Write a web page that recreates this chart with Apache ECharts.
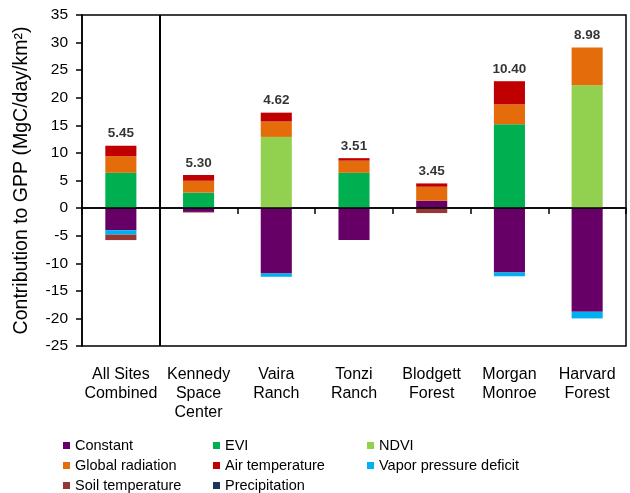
<!DOCTYPE html>
<html><head><meta charset="utf-8">
<script src="https://cdn.jsdelivr.net/npm/echarts@6/dist/echarts.min.js"></script>
<style>html,body{margin:0;padding:0;background:#fff}#c{width:630px;height:493px}</style>
</head><body><div id="c"></div>
<script>
const categories = ["All Sites\nCombined","Kennedy\nSpace\nCenter","Vaira\nRanch","Tonzi\nRanch","Blodgett\nForest","Morgan\nMonroe","Harvard\nForest"];
const constant      = [-4.0, -0.7, -11.85, -5.8, 1.33, -11.66, -18.8];
const evi           = [6.4, 2.8, 0, 6.4, 0, 15.2, 0];
const ndvi          = [0, 0, 12.9, 0, 0, 0, 22.25];
const globalRad     = [3.0, 2.15, 2.8, 2.2, 2.54, 3.6, 6.85];
const airTemp       = [1.9, 1.05, 1.6, 0.45, 0.6, 4.2, 0];
const vpd           = [-0.8, 0, -0.6, 0, 0, -0.7, -1.2];
const soilTemp      = [-1.0, -0.1, 0, 0, -0.9, 0, 0];
const precipitation = [0, 0, 0, 0, 0, 0, 0];
const totalLabels   = ["5.45","5.30","4.62","3.51","3.45","10.40","8.98"];
const yTicks = {min:-25, max:35, interval:5};
const separatorAfter = 1; // vertical divider between "All Sites Combined" and the individual sites

const seriesDefs = [
  ["Constant", constant, "#660066"],
  ["EVI", evi, "#00b050"],
  ["NDVI", ndvi, "#92d050"],
  ["Global radiation", globalRad, "#e46c0a"],
  ["Air temperature", airTemp, "#c00000"],
  ["Vapor pressure deficit", vpd, "#00b0f0"],
  ["Soil temperature", soilTemp, "#953735"],
  ["Precipitation", precipitation, "#17375e"]
];
const posTop = categories.map((c,i)=>seriesDefs.reduce((s,d)=>s+(d[1][i]>0?d[1][i]:0),0));

const font = "'Liberation Sans', Arial, sans-serif";
const series = seriesDefs.map((d,k)=>({
  name:d[0], type:'bar', stack:'gpp', data:d[1], barWidth:'40%',
  itemStyle:{color:d[2]},
  emphasis:{disabled:true},
  markLine: k===0 ? {silent:true, symbol:'none', label:{show:false},
    lineStyle:{color:'#000', width:1.5, type:'solid'}, data:[{yAxis:0}]} : undefined
}));
series.push({
  type:'scatter', data:posTop, symbolSize:0, silent:true,
  label:{show:true, position:'top', distance:5, color:'#000', fontWeight:'bold', fontSize:13.5, fontFamily:font,
    formatter:p=>totalLabels[p.dataIndex]}
});
series.push({
  type:'line', xAxisIndex:1, data:[], silent:true, showSymbol:false,
  markLine:{silent:true, symbol:'none', label:{show:false},
    lineStyle:{color:'#000', width:2, type:'solid'}, data:[{xAxis:separatorAfter}]}
});

const legendBase = {orient:'vertical', icon:'rect', itemWidth:7, itemHeight:7, itemGap:5, top:433, height:80,
  textStyle:{fontSize:14.5, color:'#000', fontFamily:font}, selectedMode:false};

const chart = echarts.init(document.getElementById('c'));
chart.setOption({
  animation:false,
  grid:{left:82, right:4, top:15, bottom:147, show:true, borderColor:'#000', borderWidth:1.5},
  legend:[
    Object.assign({left:58, data:["Constant","Global radiation","Soil temperature"]}, legendBase),
    Object.assign({left:208, data:["EVI","Air temperature","Precipitation"]}, legendBase),
    Object.assign({left:362, data:["NDVI","Vapor pressure deficit"]}, legendBase)
  ],
  xAxis:[{type:'category', data:categories,
    axisLine:{lineStyle:{color:'#000', width:1.5}},
    axisTick:{show:true, length:6, lineStyle:{color:'#000', width:1.5}},
    splitLine:{show:false},
    axisLabel:{color:'#000', fontSize:16, fontFamily:font, lineHeight:19, margin:19, interval:0}
  },{type:'value', min:0, max:categories.length, show:false, splitLine:{show:false}}],
  yAxis:{type:'value', min:yTicks.min, max:yTicks.max, interval:yTicks.interval,
    name:'Contribution to GPP (MgC/day/km²)', nameLocation:'middle', nameGap:50,
    nameTextStyle:{color:'#000', fontSize:19.5, fontFamily:font},
    axisLine:{show:true, lineStyle:{color:'#000', width:1.5}},
    axisTick:{show:true, length:6, lineStyle:{color:'#000', width:1.5}},
    splitLine:{show:false},
    axisLabel:{color:'#000', fontSize:15.5, fontFamily:font, margin:14}
  },
  series:series
});
</script></body></html>
